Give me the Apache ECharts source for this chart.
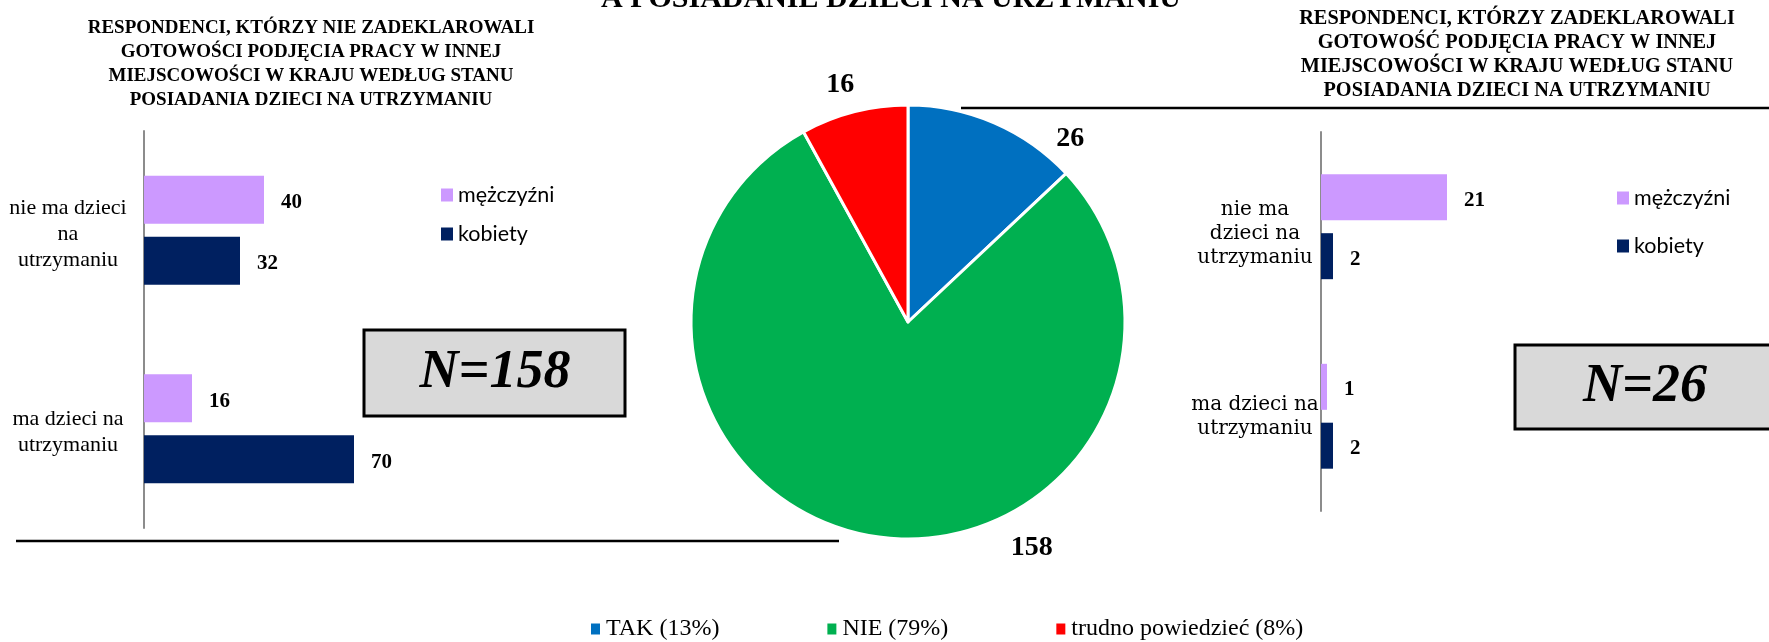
<!DOCTYPE html>
<html>
<head>
<meta charset="utf-8">
<script src="https://cdn.jsdelivr.net/npm/echarts@6/dist/echarts.min.js"></script>
<style>
  html, body { margin: 0; padding: 0; background: #fff; }
  #chart { width: 1769px; height: 642px; }
</style>
</head>
<body>
<div id="chart"></div>
<script>
// dane z wykresu
const leftCategories = ['nie ma dzieci\nna\nutrzymaniu', 'ma dzieci na\nutrzymaniu'];
const rightCategories = ['nie ma\ndzieci na\nutrzymaniu', 'ma dzieci na\nutrzymaniu'];
const seriesNames = ['mężczyźni', 'kobiety'];
const leftMen = [40, 16];
const leftWomen = [32, 70];
const rightMen = [21, 1];
const rightWomen = [2, 2];
const pieNames = ['TAK (13%)', 'NIE (79%)', 'trudno powiedzieć (8%)'];
const pieValues = [26, 158, 16];
const mainTitle = 'A POSIADANIE DZIECI NA URZYMANIU';
const leftTitle = 'RESPONDENCI, KTÓRZY NIE ZADEKLAROWALI\nGOTOWOŚCI PODJĘCIA PRACY W INNEJ\nMIEJSCOWOŚCI W KRAJU WEDŁUG STANU\nPOSIADANIA DZIECI NA UTRZYMANIU';
const rightTitle = 'RESPONDENCI, KTÓRZY ZADEKLAROWALI\nGOTOWOŚĆ PODJĘCIA PRACY W INNEJ\nMIEJSCOWOŚCI W KRAJU WEDŁUG STANU\nPOSIADANIA DZIECI NA UTRZYMANIU';
const leftN = 'N=158';
const rightN = 'N=26';

// przesunięcia etykiet (tylko styl)
const pieLabelShift = [[51, 30], [186, -3], [9, -13]];
const leftLabelGap = [7, 7];
const rightLabelGap = [14, 2];

const barColors = ['#CC99FF', '#002060'];
const pieColors = ['#0070C0', '#00B050', '#FF0000'];
const serif = '"Liberation Serif", "Times New Roman", serif';

const chart = echarts.init(document.getElementById('chart'), null, { renderer: 'canvas' });

function catAxis(gridIndex, data, gaps, margin, font, size, lh) {
    const rich = {
        t: { fontFamily: font, fontSize: size, lineHeight: lh, color: '#000', align: 'center' }
    };
    gaps.forEach((g, i) => {
        rich['g' + i] = { fontSize: 1, lineHeight: g, height: g };
    });
    return {
        type: 'category',
        gridIndex: gridIndex,
        data: data,
        inverse: true,
        axisLine: { lineStyle: { color: '#8c8c8c', width: 2 } },
        axisTick: { show: false },
        axisLabel: {
            margin: margin,
            align: 'center',
            fontFamily: font,
            fontSize: size,
            lineHeight: lh,
            color: '#000',
            formatter: function (v, i) {
                return '{g' + i + '| }\n' + v.split('\n').map(s => '{t|' + s + '}').join('\n');
            },
            rich: rich
        }
    };
}

function barSeries(name, idx, data, barWidth, barGap) {
    return {
        name: name,
        type: 'bar',
        xAxisIndex: idx,
        yAxisIndex: idx,
        data: data,
        barWidth: barWidth,
        barGap: barGap,
        itemStyle: { color: barColors[seriesNames.indexOf(name)] },
        label: {
            show: true,
            position: 'right',
            distance: 17,
            offset: [0, 3],
            fontFamily: serif,
            fontWeight: 'bold',
            fontSize: 21,
            color: '#000'
        }
    };
}

const option = {
    animation: false,
    backgroundColor: '#fff',
    title: [
        {
            text: mainTitle,
            left: 891, top: -16, textAlign: 'center', padding: 0,
            textStyle: { fontFamily: serif, fontWeight: 'bold', fontSize: 30, color: '#000' }
        },
        {
            text: leftTitle,
            left: 311, top: 16, textAlign: 'center', padding: 0,
            textStyle: { fontFamily: serif, fontWeight: 'bold', fontSize: 19, lineHeight: 24, color: '#000' }
        },
        {
            text: rightTitle,
            left: 1517, top: 7, textAlign: 'center', padding: 0,
            textStyle: { fontFamily: serif, fontWeight: 'bold', fontSize: 20.3, lineHeight: 24, color: '#000' }
        }
    ],
    legend: [
        {
            data: seriesNames, orient: 'vertical', left: 441, top: 184,
            icon: 'rect', itemWidth: 12, itemHeight: 13, itemGap: 17, padding: 0,
            selectedMode: false,
            textStyle: { fontFamily: 'Lato', fontSize: 21.5, color: '#000' }
        },
        {
            data: seriesNames, orient: 'vertical', left: 1617, top: 187,
            icon: 'rect', itemWidth: 12, itemHeight: 13, itemGap: 26, padding: 0,
            selectedMode: false,
            textStyle: { fontFamily: 'Lato', fontSize: 21.5, color: '#000' }
        },
        {
            data: pieNames, orient: 'horizontal', left: 589, top: 617,
            icon: 'rect', itemWidth: 11, itemHeight: 13, itemGap: 106, padding: 0,
            selectedMode: false,
            textStyle: { fontFamily: serif, fontSize: 24, color: '#000' }
        }
    ],
    grid: [
        { left: 144, top: 131, width: 300, height: 397, containLabel: false, outerBoundsMode: 'none' },
        { left: 1321, top: 132, width: 150, height: 379, containLabel: false, outerBoundsMode: 'none' }
    ],
    xAxis: [
        { type: 'value', gridIndex: 0, min: 0, max: 100, show: false },
        { type: 'value', gridIndex: 1, min: 0, max: 25, show: false }
    ],
    yAxis: [
        catAxis(0, leftCategories, leftLabelGap, 76, serif, 22, 26),
        catAxis(1, rightCategories, rightLabelGap, 66, '"DejaVu Serif", serif', 20, 24)
    ],
    series: [
        barSeries(seriesNames[0], 0, leftMen, 48, '27%'),
        barSeries(seriesNames[1], 0, leftWomen, 48, '27%'),
        barSeries(seriesNames[0], 1, rightMen, 46, '28%'),
        barSeries(seriesNames[1], 1, rightWomen, 46, '28%'),
        {
            type: 'pie',
            center: [908, 322],
            radius: 217,
            startAngle: 90,
            clockwise: true,
            avoidLabelOverlap: false,
            color: pieColors,
            itemStyle: { borderColor: '#fff', borderWidth: 3 },
            data: pieNames.map((n, i) => ({ name: n, value: pieValues[i] })),
            label: {
                show: true,
                position: 'outside',
                formatter: '{c}',
                fontFamily: serif,
                fontWeight: 'bold',
                fontSize: 28,
                color: '#000'
            },
            labelLine: { show: false, length: 15, length2: 0 },
            labelLayout: function (p) {
                const s = pieLabelShift[p.dataIndex];
                return { dx: s[0], dy: s[1] };
            }
        }
    ],
    graphic: [
        {
            type: 'line',
            shape: { x1: 16, y1: 541, x2: 839, y2: 541 },
            style: { stroke: '#000', lineWidth: 2.5 }
        },
        {
            type: 'line',
            shape: { x1: 961, y1: 108, x2: 1769, y2: 108 },
            style: { stroke: '#000', lineWidth: 2.5 }
        },
        {
            type: 'rect',
            shape: { x: 364, y: 330, width: 261, height: 86 },
            style: { fill: '#D9D9D9', stroke: '#000', lineWidth: 3 }
        },
        {
            type: 'text',
            x: 495, y: 373,
            style: {
                text: leftN, align: 'center', verticalAlign: 'middle',
                font: 'italic bold 54px "Liberation Serif", serif', fill: '#000'
            }
        },
        {
            type: 'rect',
            shape: { x: 1515, y: 345, width: 270, height: 84 },
            style: { fill: '#D9D9D9', stroke: '#000', lineWidth: 3 }
        },
        {
            type: 'text',
            x: 1645, y: 387,
            style: {
                text: rightN, align: 'center', verticalAlign: 'middle',
                font: 'italic bold 54px "Liberation Serif", serif', fill: '#000'
            }
        }
    ]
};

chart.setOption(option);
</script>
</body>
</html>
